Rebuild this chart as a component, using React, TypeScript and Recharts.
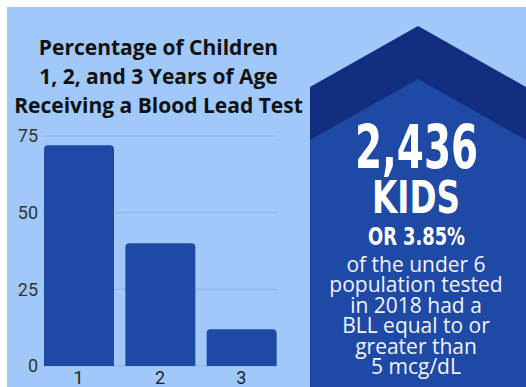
import { BarChart, Bar, XAxis, YAxis, CartesianGrid } from 'recharts'

const AGES = ['1', '2', '3']
const PCT_TESTED = [72, 40, 12]
const Y_TICKS = [0, 25, 50, 75]
const TITLE_LINES = ['Percentage of Children', '1, 2, and 3 Years of Age', 'Receiving a Blood Lead Test']
const KIDS_COUNT = '2,436'
const KIDS_PCT = 'OR 3.85%'
const NOTE_LINES = ['of the under 6', 'population tested', 'in 2018 had a', 'BLL equal to or', 'greater than', '5 mcg/dL']

const BG = '#a0c8f8'
const BAR = '#1e4aa6'
const DARK = '#112e80'

const chartData = AGES.map((age, i) => ({ age, pct: PCT_TESTED[i] }))

// title + the blue arrow panel on the right, drawn as plain svg behind the chart
function Panel() {
  return (
    <svg width={519} height={380} style={{ position: 'absolute', left: 0, top: 0 }}>
      {TITLE_LINES.map((line, i) => (
        <text
          key={line}
          x={151.5}
          y={48 + i * 29}
          textAnchor="middle"
          fontFamily="'Open Sans', sans-serif"
          fontWeight={700}
          fontSize={21}
          fill="#111"
        >
          {line}
        </text>
      ))}
      <polygon points="303,80 411,19 519,80 519,380 303,380" fill={DARK} />
      <polygon points="303,133 411,72 519,133 519,380 303,380" fill={BAR} />
      <g fill="#fff" fontFamily="'DejaVu Sans Condensed', 'DejaVu Sans', sans-serif" fontWeight={700} textAnchor="middle">
        <text x={409.5} y={161} fontSize={60} textLength={123} lengthAdjust="spacingAndGlyphs">
          {KIDS_COUNT}
        </text>
        <text x={409} y={206} fontSize={45} textLength={88} lengthAdjust="spacingAndGlyphs">
          KIDS
        </text>
        <text x={409.5} y={238} fontSize={25} textLength={97} lengthAdjust="spacingAndGlyphs">
          {KIDS_PCT}
        </text>
      </g>
      {NOTE_LINES.map((line, i) => (
        <text
          key={line}
          x={409}
          y={265 + i * 20.4}
          textAnchor="middle"
          fontFamily="'Open Sans', sans-serif"
          fontSize={21}
          fill="#f2f4fa"
        >
          {line}
        </text>
      ))}
    </svg>
  )
}

export default function App() {
  return (
    <div style={{ position: 'absolute', left: 7, top: 7, width: 519, height: 380, background: BG, overflow: 'hidden' }}>
      <Panel />
      <div style={{ position: 'absolute', left: 0, top: 0 }}>
        <BarChart width={290} height={380} data={chartData} margin={{ top: 129, right: 15, left: 0, bottom: 0 }} barSize={70}>
          <CartesianGrid vertical={false} stroke="#8db2e4" x={36} width={234} />
          <XAxis
            dataKey="age"
            height={21}
            axisLine={false}
            tickLine={false}
            tickSize={0}
            tickMargin={5}
            tick={{ fill: '#222', fontSize: 18, fontFamily: 'Roboto, sans-serif' }}
          />
          <YAxis
            domain={[0, 75]}
            ticks={Y_TICKS}
            width={31}
            axisLine={false}
            tickLine={false}
            tickSize={0}
            tickMargin={0}
            tick={{ fill: '#333', fontSize: 18, fontFamily: 'Roboto, sans-serif' }}
          />
          <Bar dataKey="pct" fill={BAR} radius={[4, 4, 0, 0]} isAnimationActive={false} />
        </BarChart>
      </div>
    </div>
  )
}
